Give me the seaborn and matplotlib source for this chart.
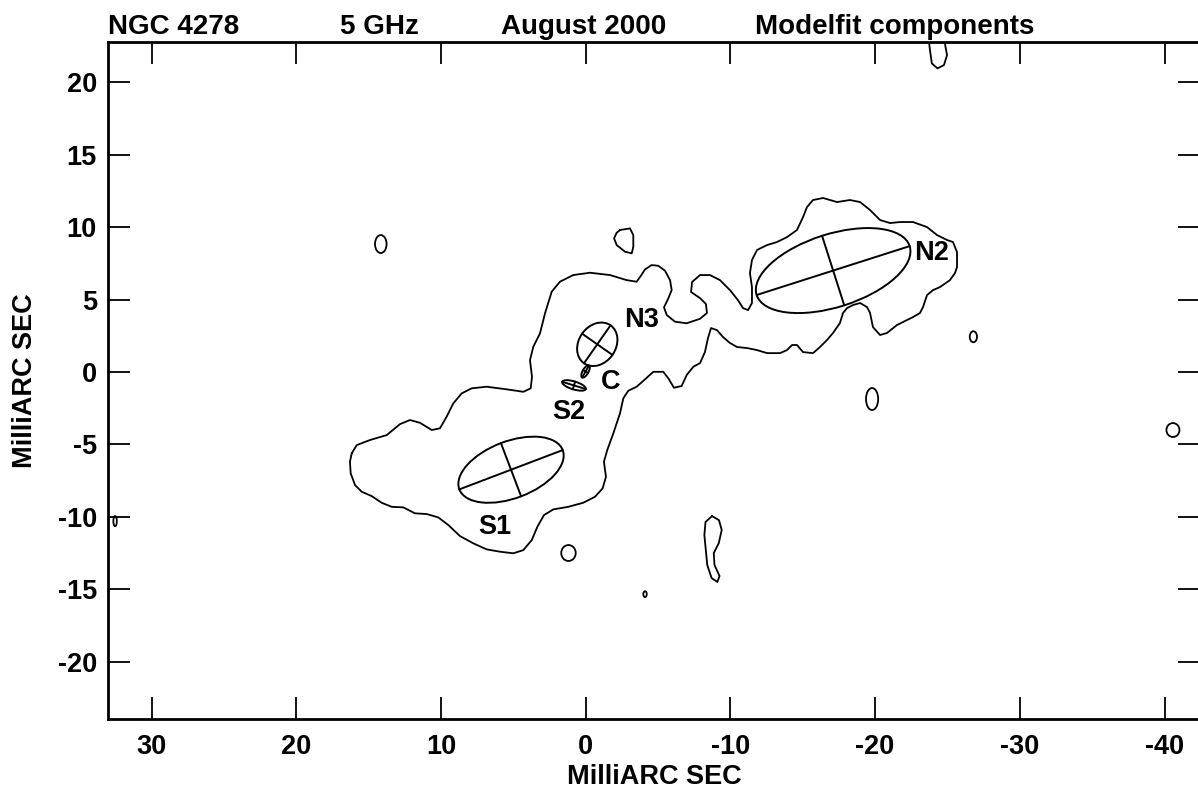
import numpy as np
import matplotlib
matplotlib.use("Agg")
import matplotlib.pyplot as plt
import seaborn as sns
from matplotlib.patches import Ellipse

# ── DATA (milliarcsec offsets: RA, Dec) ─────────────────────
# outer contour of the jet emission
main_x = [16.17, 15.82, 14.91, 13.75, 12.83, 12.14, 11.45, 10.64, 10.07, 9.61,
          9.15, 8.57, 7.88, 6.84, 5.46, 4.31, 3.80, 3.71, 3.85, 3.62,
          3.16, 2.81, 2.35, 1.78, 0.86, -0.30, -1.68, -2.83, -3.52, -3.80,
          -4.10, -4.56, -5.02, -5.48, -5.83, -5.94, -5.71, -5.41, -5.60, -6.17,
          -6.98, -7.90, -8.38, -8.31, -7.90, -7.28, -7.35, -7.90, -8.59, -9.28,
          -9.97, -10.52, -10.87, -11.22, -11.49, -11.49, -11.35, -11.49, -11.84, -12.53,
          -13.22, -13.91, -14.60, -15.02, -15.29, -15.71, -16.40, -17.37, -18.26, -18.96,
          -19.65, -20.34, -21.03, -21.72, -22.62, -23.59, -24.28, -24.97, -25.38, -25.66,
          -25.66, -25.52, -25.17, -24.48, -24.00, -23.59, -23.31, -23.10, -22.62, -22.20,
          -21.51, -20.82, -20.34, -19.85, -19.65, -19.44, -18.96, -18.47, -18.06, -17.78,
          -17.57, -17.09, -16.67, -16.19, -15.71, -15.02, -14.60, -14.26, -13.91, -13.43,
          -12.53, -11.84, -11.15, -10.46, -9.97, -9.49, -9.07, -8.66, -8.45, -8.24,
          -7.90, -7.44, -6.98, -6.63, -6.10, -5.71, -5.36, -4.67, -4.10, -3.52,
          -2.94, -2.60, -2.37, -1.91, -1.49, -1.26, -1.40, -1.17, -0.64, 0.17,
          1.20, 2.24, 2.88, 3.34, 3.73, 4.31, 5.00, 5.92, 6.84, 7.77,
          8.69, 9.49, 10.19, 10.99, 11.80, 12.60, 13.41, 14.10, 14.79, 15.48,
          15.94, 16.24, 16.29, 16.17]
main_y = [-5.62, -5.05, -4.70, -4.36, -3.60, -3.32, -3.51, -4.01, -3.89, -3.09,
          -2.17, -1.48, -1.13, -1.02, -1.20, -1.37, -1.13, -0.33, 0.82, 1.74,
          2.66, 4.05, 5.54, 6.23, 6.69, 6.85, 6.69, 6.34, 6.23, 6.62,
          7.08, 7.38, 7.33, 6.99, 6.34, 5.65, 5.08, 4.46, 3.93, 3.47,
          3.36, 3.67, 4.07, 4.69, 5.10, 5.52, 6.21, 6.69, 6.69, 6.34,
          5.65, 4.96, 4.41, 4.27, 4.76, 5.86, 6.83, 7.73, 8.42, 8.76,
          8.97, 9.31, 9.80, 10.69, 11.38, 11.87, 12.01, 11.73, 11.87, 11.73,
          11.18, 10.49, 10.28, 10.35, 10.35, 10.00, 9.45, 9.11, 8.97, 8.28,
          7.24, 6.83, 6.34, 5.86, 5.65, 5.31, 4.48, 4.07, 3.79, 3.58,
          3.24, 2.69, 2.55, 3.10, 4.07, 4.48, 4.76, 4.62, 4.41, 4.07,
          3.38, 2.69, 2.20, 1.72, 1.30, 1.37, 1.86, 1.86, 1.51, 1.30,
          1.30, 1.51, 1.65, 1.72, 2.00, 2.41, 2.89, 3.03, 2.34, 1.37,
          0.61, 0.36, -0.21, -0.97, -1.09, -0.44, 0.01, 0.01, -0.51, -1.02,
          -1.30, -1.82, -2.86, -4.24, -5.39, -6.20, -7.24, -8.04, -8.62, -9.03,
          -9.31, -9.49, -9.88, -10.69, -11.61, -12.30, -12.52, -12.41, -12.25, -11.83,
          -11.33, -10.57, -10.04, -9.81, -9.76, -9.35, -9.31, -9.03, -8.57, -8.27,
          -7.81, -7.00, -6.20, -5.62]

# irregular noise islands
blob_x = [-2.37, -3.06, -3.29, -3.29, -3.18, -2.72, -2.14, -1.96, -2.14, -2.37]
blob_y = [9.80, 9.91, 9.45, 8.64, 8.19, 8.30, 8.76, 9.22, 9.61, 9.80]

top_x = [-23.71, -23.79, -23.92, -24.31, -24.76, -24.97, -24.84, -24.84, -24.30, -23.71]
top_y = [22.91, 22.22, 21.30, 20.96, 21.19, 21.88, 22.57, 23.14, 23.60, 22.91]

long_x = [-8.73, -9.21, -9.40, -9.20, -8.85, -8.90, -9.25, -9.10, -8.70, -8.40,
          -8.30, -8.20, -8.28, -8.73]
long_y = [-9.95, -10.23, -10.91, -11.81, -12.50, -13.33, -14.09, -14.50, -14.23, -13.33,
          -12.29, -11.26, -10.36, -9.95]

# small oval islands
oval_x = [14.16, -26.79, -19.79, -40.58, 1.19, -4.10, 32.52]
oval_y = [8.83, 2.43, -1.87, -4.01, -12.50, -15.34, -10.30]
oval_w = [0.80, 0.50, 0.84, 0.90, 1.00, 0.24, 0.24]
oval_h = [1.24, 0.76, 1.52, 0.96, 1.10, 0.40, 0.70]

# modelfit components (full axes in mas, angle in deg on the sky frame)
comp_name = ["N2", "N3", "C", "S2", "S1"]
comp_x = [-17.10, -0.80, 0.01, 0.81, 5.16]
comp_y = [7.00, 1.91, 0.03, -0.93, -6.75]
comp_maj = [11.10, 3.20, 0.95, 1.70, 7.64]
comp_min = [5.04, 2.56, 0.40, 0.55, 3.93]
comp_ang = [-17.7, 125.0, 120.0, 17.0, -20.8]
lab_x = [-23.90, -3.86, -1.75, 1.15, 6.27]
lab_y = [8.20, 3.58, -0.70, -2.75, -10.69]

x_ticks = [30, 20, 10, 0, -10, -20, -30, -40]
y_ticks = [20, 15, 10, 5, 0, -5, -10, -15, -20]
title_parts = ["NGC 4278", "5 GHz", "August 2000", "Modelfit components"]
title_pos = [0.090, 0.284, 0.418, 0.630]

# ── STYLE ───────────────────────────────────────────────────
sns.set_style("ticks")
plt.rcParams['font.family'] = ['Liberation Sans', 'DejaVu Sans']
plt.rcParams['font.weight'] = 'bold'
plt.rcParams['axes.unicode_minus'] = False
for key in ['text.color', 'axes.labelcolor', 'xtick.color', 'ytick.color', 'axes.edgecolor']:
    plt.rcParams[key] = 'black'

fig = plt.figure(figsize=(11.98, 7.92), dpi=100)
ax = fig.add_axes([108/1198, 1 - 719/792, 1092/1198, 677/792])

lw = 1.3
for xs, ys in [(main_x, main_y), (blob_x, blob_y), (top_x, top_y), (long_x, long_y)]:
    sns.lineplot(x=xs, y=ys, sort=False, estimator=None, color='black', lw=lw, ax=ax)

for x0, y0, w, h in zip(oval_x, oval_y, oval_w, oval_h):
    ax.add_patch(Ellipse((x0, y0), w, h, fill=False, ec='black', lw=lw))

# component ellipses with their major / minor axes
for x0, y0, a, b, t in zip(comp_x, comp_y, comp_maj, comp_min, comp_ang):
    ax.add_patch(Ellipse((x0, y0), a, b, angle=t, fill=False, ec='black', lw=1.4))
    c, s = np.cos(np.radians(t)), np.sin(np.radians(t))
    sns.lineplot(x=[x0 - a/2*c, x0 + a/2*c], y=[y0 - a/2*s, y0 + a/2*s],
                 sort=False, estimator=None, color='black', lw=1.4, ax=ax)
    sns.lineplot(x=[x0 + b/2*s, x0 - b/2*s], y=[y0 - b/2*c, y0 + b/2*c],
                 sort=False, estimator=None, color='black', lw=1.4, ax=ax)

for name, x0, y0 in zip(comp_name, lab_x, lab_y):
    ax.text(x0, y0, name, ha='center', va='center', fontsize=19.5, fontweight='bold')

ax.set_xlim(33.01, -42.45)
ax.set_ylim(-23.96, 22.78)
ax.set_xticks(x_ticks)
ax.set_yticks(y_ticks)
ax.set_xticklabels([str(v) for v in x_ticks])
ax.set_yticklabels([str(v) for v in y_ticks])
ax.tick_params(direction='in', length=16, width=1.3, top=True, right=True,
               labelsize=19.5, colors='black')
ax.tick_params(axis='x', pad=10.5)
ax.tick_params(axis='y', pad=8)
for sp in ax.spines.values():
    sp.set_linewidth(2)
    sp.set_color('black')

ax.set_xlabel("MilliARC SEC", fontsize=19.5, fontweight='bold')
ax.set_ylabel("MilliARC SEC", fontsize=19.5, fontweight='bold')
ax.xaxis.set_label_coords(0.5, -0.066)
ax.yaxis.set_label_coords(-0.064, 0.5)

for txt, xp in zip(title_parts, title_pos):
    fig.text(xp, 1 - 34/792, txt, ha='left', va='baseline', fontsize=20, fontweight='bold')

fig.savefig("out.png", dpi=100)
